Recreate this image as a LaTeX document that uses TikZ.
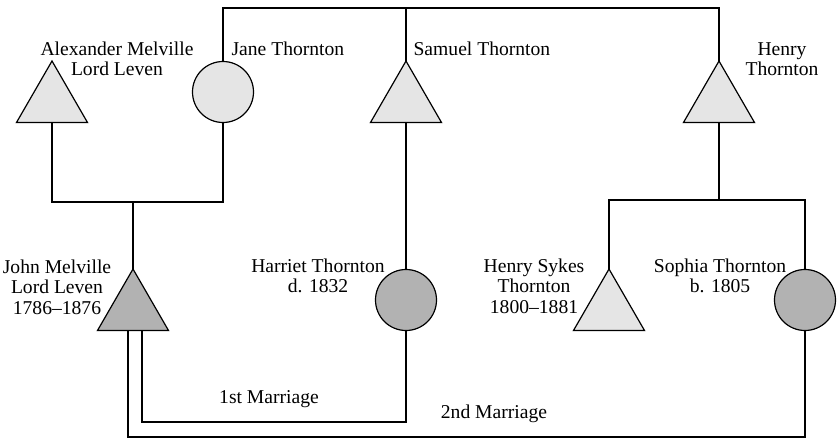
\documentclass[tikz,border=0pt]{standalone}
\usepackage{fontspec}
\setmainfont{Liberation Serif}
\usetikzlibrary{positioning,calc,shapes.geometric}

\begin{document}
\begin{tikzpicture}[x=0.5pt,y=-0.5pt,line width=0.6pt,
                    man/.style={draw,regular polygon,regular polygon sides=3,inner sep=0,outer sep=0,minimum size=41pt,fill=black!10},
                    woman/.style={draw,circle,inner sep=0,outer sep=0,minimum size=30.5pt,fill=black!10},
                    heir/.style={fill=black!30},
                    naam/.style={align=center,inner sep=0,font=\fontsize{9.8}{10.2}\selectfont},
       ]
       \useasboundingbox (0,0) rectangle (837,439);
       % generatie 1
       \node[man] (alexander) at (52,102) {};
       \node[woman] (jane) at (223,92) {};
       \node[man] (samuel) at (406,102) {};
       \node[man] (henry) at (719,102) {};
       % generatie 2
       \node[man,heir] (john) at (133,310) {};
       \node[woman,heir] (harriet) at (406,300) {};
       \node[man] (sykes) at (609,310) {};
       \node[woman,heir] (sophia) at (805,300) {};
       % hulppunten
       \coordinate (broers) at (406,8);
       \coordinate (ouders) at (133,202);
       \coordinate (kinderen) at (719,200);
       \coordinate (eerste) at (269,422);
       \coordinate (tweede) at (494,437);
       % namen
       \node[naam] (alexander naam) at (117,59) {Alexander Melville\\Lord Leven};
       \node[naam,anchor=west] (jane naam) at (231,49) {Jane Thornton};
       \node[naam,anchor=west] (samuel naam) at (413,49) {Samuel Thornton};
       \node[naam] (henry naam) at (782,59) {Henry\\Thornton};
       \node[naam] (john naam) at (57,287) {John Melville\\Lord Leven\\1786--1876};
       \node[naam] (harriet naam) at (318,276) {Harriet Thornton\\d. 1832};
       \node[naam] (sykes naam) at (534,286) {Henry Sykes\\Thornton\\1800--1881};
       \node[naam] (sophia naam) at (720,276) {Sophia Thornton\\b. 1805};
       % lijnen
       \draw (jane.north) |- (broers) -| (henry.north);
       \draw (broers) -- (samuel.north);
       \draw (alexander.south) |- (ouders) -| (jane.south);
       \draw (ouders) -- (john.north);
       \draw (samuel.south) -- (harriet.north);
       \draw (henry.south) -- (kinderen);
       \draw (sykes.north) |- (kinderen) -| (sophia.north);
       \draw ([xshift=4.5pt]john.south) |- (eerste) -| (harriet.south);
       \draw ([xshift=-2.5pt]john.south) |- (tweede) -| (sophia.south);
       \node[naam,above=7pt of eerste] {1st Marriage};
       \node[naam,above=7pt of tweede] {2nd Marriage};
    \end{tikzpicture}
\end{document}
